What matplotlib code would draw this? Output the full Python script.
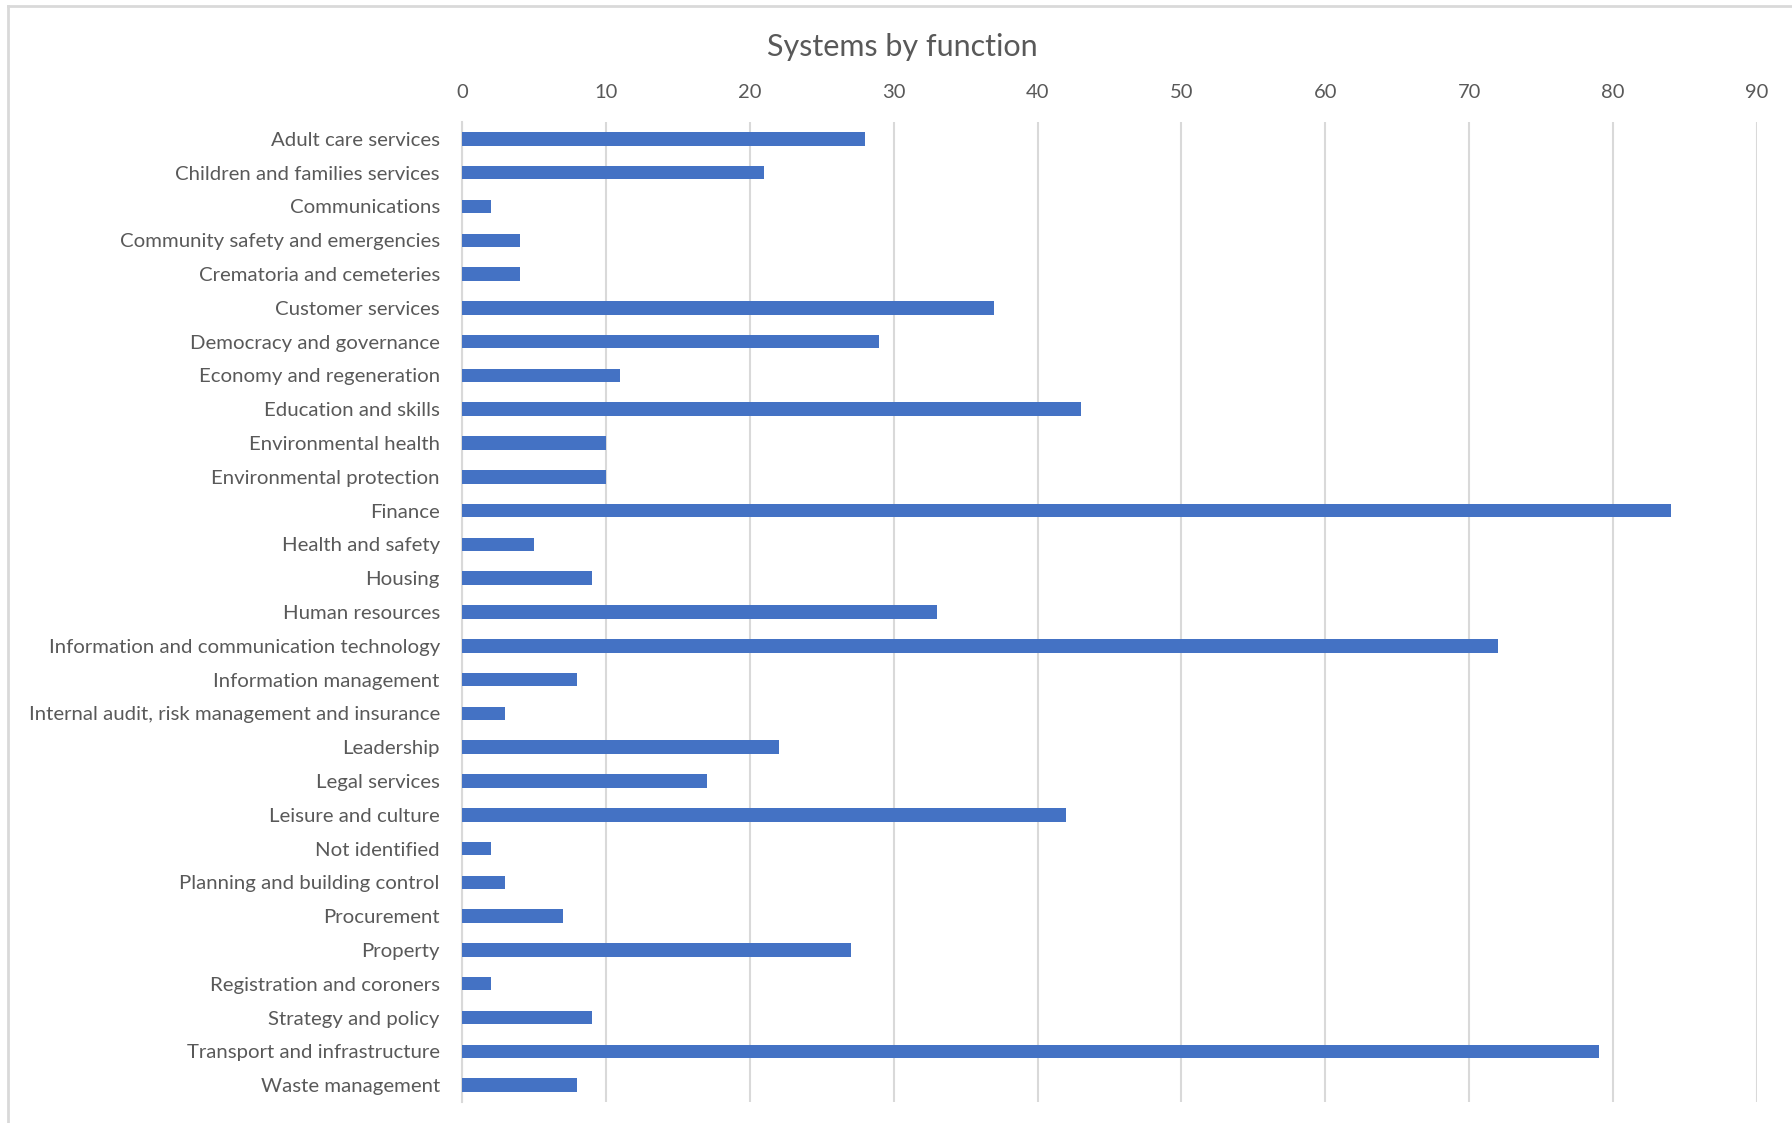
import matplotlib
matplotlib.use("Agg")
import matplotlib.pyplot as plt
from matplotlib.lines import Line2D

categories = [
    "Adult care services",
    "Children and families services",
    "Communications",
    "Community safety and emergencies",
    "Crematoria and cemeteries",
    "Customer services",
    "Democracy and governance",
    "Economy and regeneration",
    "Education and skills",
    "Environmental health",
    "Environmental protection",
    "Finance",
    "Health and safety",
    "Housing",
    "Human resources",
    "Information and communication technology",
    "Information management",
    "Internal audit, risk management and insurance",
    "Leadership",
    "Legal services",
    "Leisure and culture",
    "Not identified",
    "Planning and building control",
    "Procurement",
    "Property",
    "Registration and coroners",
    "Strategy and policy",
    "Transport and infrastructure",
    "Waste management",
]
values = [28, 21, 2, 4, 4, 37, 29, 11, 43, 10, 10, 84, 5, 9, 33, 72, 8, 3,
          22, 17, 42, 2, 3, 7, 27, 2, 9, 79, 8]
xticks = [0, 10, 20, 30, 40, 50, 60, 70, 80, 90]
title = "Systems by function"

W, H = 1792, 1123
fig = plt.figure(figsize=(W / 100, H / 100), dpi=100)
fig.patch.set_facecolor("white")

left, right, top, bottom = 462, 1757, 122, 1102
ax = fig.add_axes([left / W, 1 - bottom / H, (right - left) / W, (bottom - top) / H])

text_color = "#595959"
grid_color = "#D9D9D9"
bar_color = "#4472C4"
font = "Lato"

pos = list(range(len(categories)))
ax.barh(pos, values, height=0.4, color=bar_color, zorder=3)
ax.set_ylim(len(categories) - 0.5, -0.5)
ax.set_xlim(0, 90)
ax.set_xticks(xticks)
ax.xaxis.tick_top()
ax.set_yticks(pos)
ax.set_yticklabels(categories, fontsize=14.7, color=text_color, family=font)
ax.set_xticklabels([str(t) for t in xticks], fontsize=14.5, color=text_color, family=font)
ax.tick_params(axis="both", length=0)
ax.tick_params(axis="x", pad=15)
ax.tick_params(axis="y", pad=16)
ax.grid(axis="x", color=grid_color, linewidth=1.5, zorder=0)
for s in ["top", "right", "bottom"]:
    ax.spines[s].set_visible(False)
ax.spines["left"].set_color(grid_color)
ax.spines["left"].set_linewidth(1.5)

fig.text(902 / W, 1 - 47 / H, title, ha="center", va="center", fontsize=22,
         color=text_color, family=font)

# outer chart border
fig.add_artist(Line2D([8 / W, 1], [1 - 6 / H, 1 - 6 / H], color=grid_color, linewidth=2,
                      transform=fig.transFigure))
fig.add_artist(Line2D([8 / W, 8 / W], [0, 1 - 6 / H], color=grid_color, linewidth=2,
                      transform=fig.transFigure))

fig.savefig("out.png", dpi=100, facecolor="white")
